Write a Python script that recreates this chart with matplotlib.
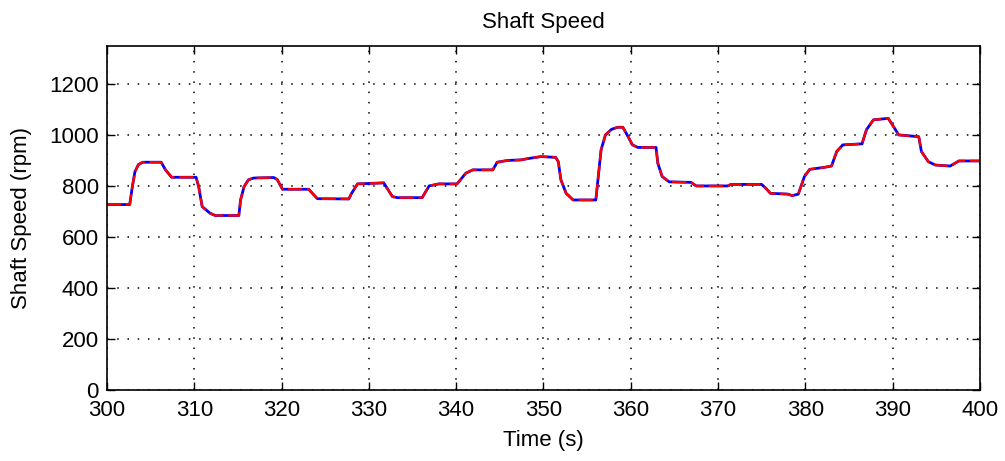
import matplotlib
matplotlib.use('Agg')
import matplotlib.pyplot as plt

# shaft speed trace, time [s] vs speed [rpm]
time_s = [300, 302.6, 302.9, 303.2, 303.6, 304.1, 306.2, 306.7, 307.4, 310.2,
          310.5, 310.9, 311.8, 312.4, 315.1, 315.3, 315.7, 316.2, 316.8, 319.1,
          319.5, 320.1, 323.1, 324.1, 327.7, 328.0, 328.7, 331.7, 332.7, 333.3,
          336.1, 336.9, 338.0, 340.1, 341.1, 341.9, 344.2, 344.7, 345.9, 347.4,
          348.2, 349.7, 351.4, 351.7, 352.0, 352.6, 353.4, 356.0, 356.2, 356.6,
          357.1, 357.8, 358.5, 359.1, 359.7, 360.2, 360.8, 362.9, 363.1, 363.6,
          364.4, 366.9, 367.5, 371.1, 371.5, 375.0, 375.5, 376.0, 378.0, 378.5,
          379.2, 379.9, 380.5, 382.2, 383.0, 383.6, 384.3, 386.5, 387.0, 387.8,
          389.5, 390.1, 390.7, 393.0, 393.3, 394.1, 394.9, 396.6, 397.6, 400]
speed_rpm = [727, 727, 797, 856, 884, 893, 893, 863, 834, 834,
             797, 719, 693, 684, 684, 745, 797, 824, 831, 833,
             825, 787, 787, 750, 749, 770, 808, 812, 758, 754,
             754, 800, 808, 808, 850, 863, 863, 893, 900, 902,
             907, 915, 912, 895, 824, 771, 745, 745, 810, 941,
             1000, 1022, 1030, 1030, 993, 961, 951, 951, 889, 837,
             816, 814, 800, 800, 806, 806, 790, 771, 768, 762,
             768, 837, 865, 873, 878, 935, 961, 965, 1020, 1059,
             1065, 1033, 1000, 993, 935, 895, 882, 878, 898, 898]

xticks = list(range(300, 401, 10))
yticks = list(range(0, 1201, 200))

plt.rcParams['font.family'] = ['Liberation Sans', 'DejaVu Sans']
plt.rcParams['font.size'] = 16

fig = plt.figure(figsize=(10.05, 4.61), dpi=100)
ax = fig.add_axes([0.1065, 0.154, 0.8685, 0.747])

ax.plot(time_s, speed_rpm, color='blue', lw=2.0)
ax.plot(time_s, speed_rpm, color='red', lw=1.7, linestyle=(0, (6, 2)))

ax.set_xlim(300, 400)
ax.set_ylim(0, 1350)
ax.set_xticks(xticks)
ax.set_yticks(yticks)
ax.grid(True, color='black', linestyle=(0, (1, 5.7)), linewidth=1.1)
ax.tick_params(direction='in', length=6, width=1, top=True, right=True)
ax.tick_params(axis='x', pad=7)
ax.tick_params(axis='y', pad=6)
for s in ax.spines.values():
    s.set_linewidth(1.2)

ax.set_title('Shaft Speed', fontsize=16, pad=13)
ax.set_xlabel('Time (s)', fontsize=16, labelpad=7)
ax.set_ylabel('Shaft Speed (rpm)', fontsize=16, labelpad=12)

plt.savefig('out.png', dpi=100)
